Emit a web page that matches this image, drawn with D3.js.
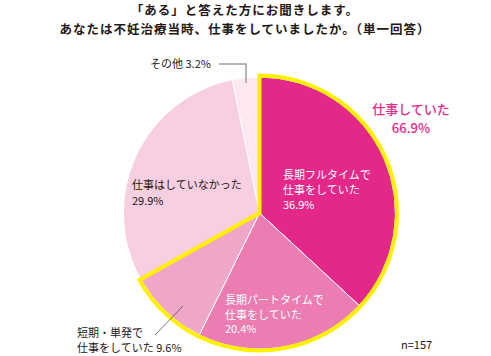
<!DOCTYPE html>
<html><head><meta charset="utf-8">
<script src="https://cdn.jsdelivr.net/npm/d3@7"></script>
<style>
body{margin:0;background:#fff;}
text{font-family:"Noto Sans CJK JP","Noto Sans",sans-serif;}
</style></head>
<body><svg id="c" width="491" height="356"></svg>
<script>
const titleLines = ["「ある」と答えた方にお聞きします。", "あなたは不妊治療当時、仕事をしていましたか。（単一回答）"];
const categories = ["長期フルタイムで仕事をしていた", "長期パートタイムで仕事をしていた", "短期・単発で仕事をしていた", "仕事はしていなかった", "その他"];
const values = [36.9, 20.4, 9.6, 29.9, 3.2];
const colors = ["#e4288a", "#eb7db2", "#f0a6c8", "#f8cee1", "#fde8f1"];
const workingTotal = 66.9;
const sampleNote = "n=157";

const svg = d3.select("#c");
const cx = 259.5, cy = 213, R = 136;

svg.selectAll("text.title").data(titleLines).join("text").attr("class","title")
  .attr("x",245).attr("y",(d,i)=>15+i*18.6)
  .attr("text-anchor","middle").attr("font-size",12.5).attr("letter-spacing",1)
  .attr("font-weight","bold").attr("fill","#231815").text(d=>d);

const pie = d3.pie().sort(null).value(d=>d)(values);
const arc = d3.arc().innerRadius(0).outerRadius(R);
const g = svg.append("g").attr("transform",`translate(${cx},${cy})`);
g.selectAll("path.s").data(pie).join("path").attr("class","s")
  .attr("d",arc).attr("fill",(d,i)=>colors[i])
  .attr("stroke","#fff").attr("stroke-width",1);

const endA = pie[2].endAngle;
g.append("path")
  .attr("d", d3.arc().innerRadius(0).outerRadius(R+1.5)({startAngle:0,endAngle:endA}))
  .attr("fill","none").attr("stroke","#fff000").attr("stroke-width",4)
  .attr("stroke-linejoin","miter");

function multi(x,y,lines,color,size,lh){
  const t = svg.append("text").attr("x",x).attr("y",y).attr("fill",color).attr("font-size",size);
  lines.forEach((l,i)=>t.append("tspan").attr("x",x).attr("dy",i?lh:0).text(l));
}
multi(283,179,["長期フルタイムで","仕事をしていた",values[0]+"%"],"#fff",11,15);
multi(225,304,["長期パートタイムで","仕事をしていた",values[1]+"%"],"#fff",11,14.5);
multi(132,189,["仕事はしていなかった",values[3]+"%"],"#231815",11,16);
multi(77,337,["短期・単発で","仕事をしていた "+values[2]+"%"],"#231815",11,15);

svg.append("text").attr("x",150).attr("y",68).attr("font-size",11).attr("fill","#231815")
  .text("その他 "+values[4]+"%");
svg.append("path").attr("d","M219,64H246V83").attr("fill","none").attr("stroke","#9e9e9f").attr("stroke-width",1.5);
svg.append("line").attr("x1",155).attr("y1",335).attr("x2",183).attr("y2",306)
  .attr("stroke","#555").attr("stroke-width",0.8);

svg.append("text").attr("x",411).attr("y",114).attr("text-anchor","middle").attr("font-size",13)
  .attr("fill","#e4288a").attr("font-weight",500).text("仕事していた");
svg.append("text").attr("x",411).attr("y",133).attr("text-anchor","middle").attr("font-size",13)
  .attr("fill","#e4288a").attr("font-weight",500).text(workingTotal+"%");

svg.append("text").attr("x",401).attr("y",349).attr("font-size",11).attr("fill","#231815").text(sampleNote);
</script></body></html>
